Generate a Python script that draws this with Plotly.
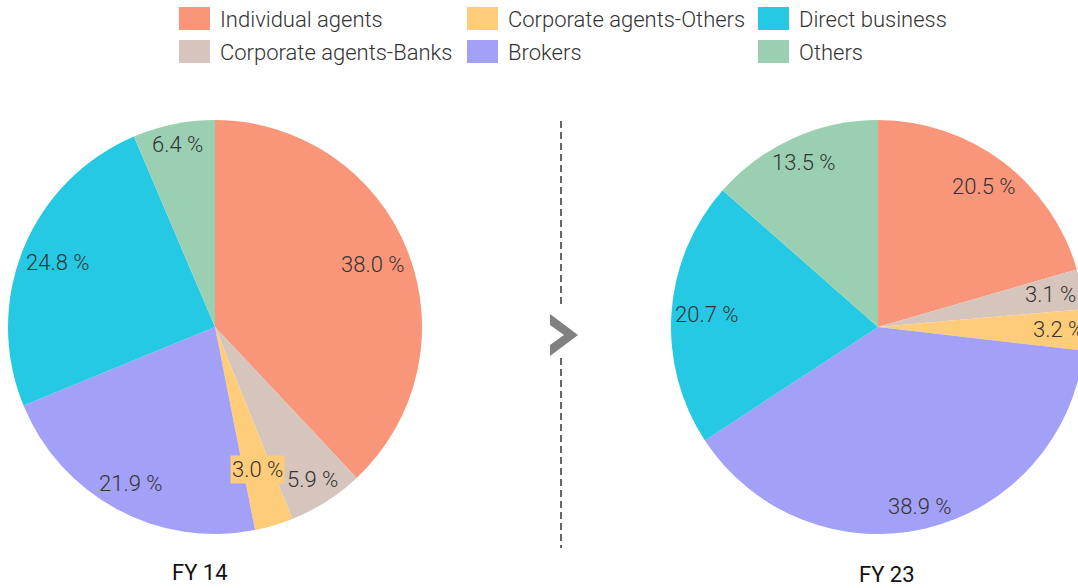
import math
import plotly.graph_objects as go

W, H = 1090, 588  # page is 1078 wide; the extra width is clipped, like the reference

categories = ["Individual agents", "Corporate agents-Banks", "Corporate agents-Others",
              "Brokers", "Direct business", "Others"]
fy14_values = [38.0, 5.9, 3.0, 21.9, 24.8, 6.4]
fy23_values = [20.5, 3.1, 3.2, 38.9, 20.7, 13.5]
fy14_title = "FY 14"
fy23_title = "FY 23"

colors = ["#F9967A", "#D5C5BC", "#FFCC7A", "#A3A0F7", "#25C9E3", "#9AD0B1"]
# radial position of each value label (fraction of the radius)
fy14_label_r = [0.82, 0.875, 0.72, 0.86, 0.82, 0.90]
fy23_label_r = [0.85, 0.85, 0.87, 0.89, 0.83, 0.87]
label_bg = [None, None, "#FFCC7A", None, None, None]

FONT = "Roboto"
TXT = "#333333"

# pie domains in pixels (left, right, top, bottom)
left_dom = (8, 422, 120, 534)
right_dom = (671, 1085, 120, 534)


def dom(d):
    x0, x1, t, b = d
    return dict(x=[x0 / W, x1 / W], y=[1 - b / H, 1 - t / H])


fig = go.Figure()
for vals, d in ((fy14_values, left_dom), (fy23_values, right_dom)):
    fig.add_trace(go.Pie(
        labels=categories, values=vals, sort=False, direction="clockwise",
        rotation=0, marker=dict(colors=colors, line=dict(width=0)),
        textinfo="none", hoverinfo="label+value", showlegend=False,
        domain=dom(d),
    ))

annotations = []
shapes = []


def add_labels(vals, d, fracs):
    x0, x1, t, b = d
    cx, cy = (x0 + x1) / 2, (t + b) / 2
    r = min(x1 - x0, b - t) / 2
    total = sum(vals)
    cum = 0.0
    for i, v in enumerate(vals):
        mid = (cum + v / 2) / total * 2 * math.pi
        cum += v
        px = cx + fracs[i] * r * math.sin(mid)
        py = cy - fracs[i] * r * math.cos(mid)
        a = dict(x=px / W, y=1 - py / H, xref="paper", yref="paper",
                 text=f"{v:.1f} %", showarrow=False,
                 font=dict(family=FONT, size=22, color=TXT, weight=300),
                 xanchor="center", yanchor="middle")
        if label_bg[i]:
            a["bgcolor"] = label_bg[i]
            a["borderpad"] = 1
        annotations.append(a)


add_labels(fy14_values, left_dom, fy14_label_r)
add_labels(fy23_values, right_dom, fy23_label_r)

# legend (3 columns x 2 rows, column-major)
legend_cols = [179, 467, 758]
legend_rows = [7, 40]
for i, name in enumerate(categories):
    col, row = i // 2, i % 2
    bx, by = legend_cols[col], legend_rows[row]
    shapes.append(dict(type="rect", xref="paper", yref="paper",
                       x0=bx / W, x1=(bx + 31) / W, y0=1 - (by + 23) / H, y1=1 - by / H,
                       fillcolor=colors[i], line=dict(width=0)))
    annotations.append(dict(x=(bx + 39) / W, y=1 - (by + 12.5) / H, xref="paper", yref="paper",
                            text=name, showarrow=False, xanchor="left", yanchor="middle",
                            font=dict(family=FONT, size=22, color=TXT, weight=300)))

# titles
annotations.append(dict(x=200 / W, y=1 - 572 / H, xref="paper", yref="paper", text=fy14_title,
                        xanchor="center", yanchor="middle", showarrow=False,
                        font=dict(family=FONT, size=22, color="#111111")))
annotations.append(dict(x=887 / W, y=1 - 574 / H, xref="paper", yref="paper", text=fy23_title,
                        xanchor="center", yanchor="middle", showarrow=False,
                        font=dict(family=FONT, size=22, color="#111111")))

# divider
for y0, y1 in ((121, 307), (358, 548)):
    shapes.append(dict(type="line", xref="paper", yref="paper",
                       x0=561 / W, x1=561 / W, y0=1 - y0 / H, y1=1 - y1 / H,
                       line=dict(color="#666666", width=2, dash="7px,4px")))
pts = [(550, 314), (578, 335), (550, 356), (550, 345), (564, 335), (550, 325)]
path = "M " + " L ".join(f"{x / W},{1 - y / H}" for x, y in pts) + " Z"
shapes.append(dict(type="path", xref="paper", yref="paper", path=path,
                   fillcolor="#808080", line=dict(width=0)))

fig.update_layout(
    width=W, height=H, margin=dict(l=0, r=0, t=0, b=0),
    paper_bgcolor="white", plot_bgcolor="white",
    annotations=annotations, shapes=shapes,
    font=dict(family=FONT),
)
fig.write_html("out.html", config={"displayModeBar": False},
               post_script="document.body.style.margin='0';document.body.style.overflow='hidden';")
